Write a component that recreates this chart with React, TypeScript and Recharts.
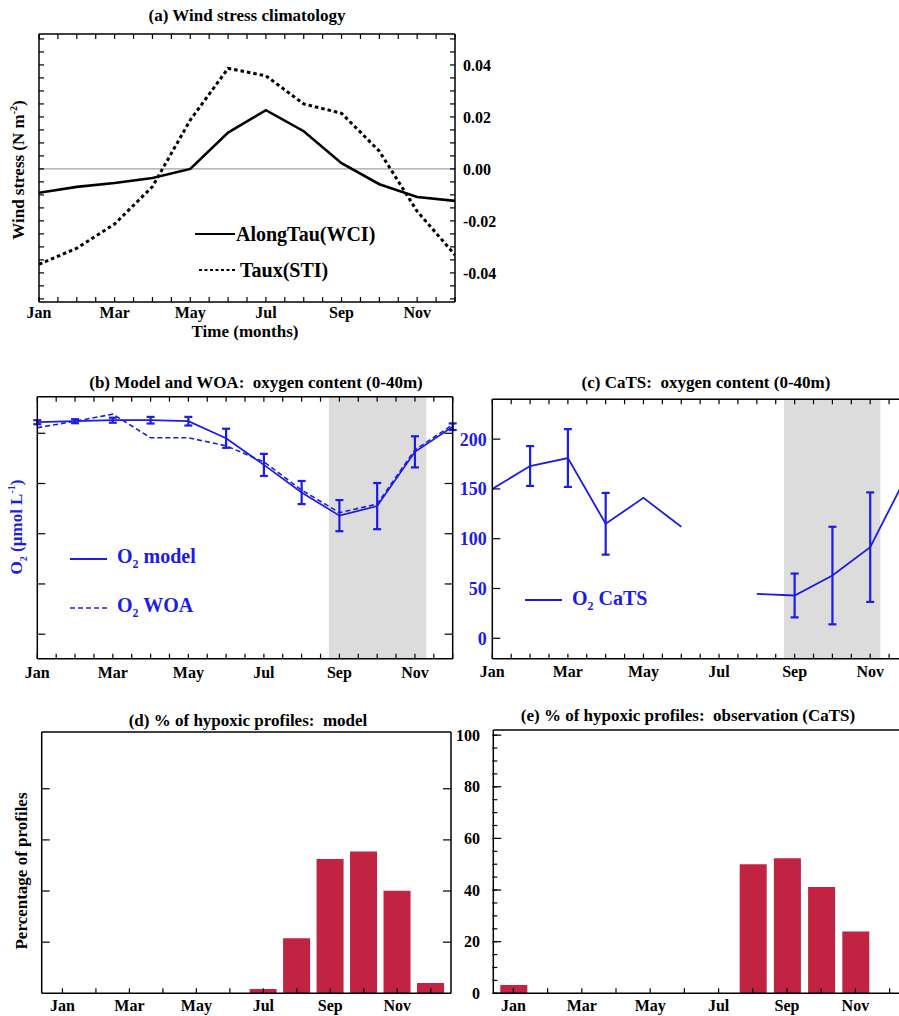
import React from "react";
import {
  LineChart,
  Line,
  BarChart,
  Bar,
  XAxis,
  YAxis,
  ErrorBar,
  ReferenceArea,
  ReferenceLine,
  Legend,
} from "recharts";

const MONTHS = ["Jan", "Feb", "Mar", "Apr", "May", "Jun", "Jul", "Aug", "Sep", "Oct", "Nov", "Dec"];

// (a) wind stress climatology, N m-2
const alongTauWCI = [-0.0092, -0.0069, -0.0054, -0.0035, 0.0, 0.014, 0.0226, 0.0145, 0.0022, -0.0059, -0.0108, -0.0123];
const tauxSTI = [-0.0367, -0.0305, -0.0212, -0.0068, 0.0188, 0.0387, 0.0358, 0.025, 0.0214, 0.0068, -0.0163, -0.0331];

// (b) model and WOA oxygen content (0-40m)
const o2Model = [261, 262, 263, 263, 262, 245, 218.5, 191, 168, 177.5, 231.5, 256.5];
const o2ModelErr = [2, 2, 2.5, 3.3, 4.3, 9.5, 11, 11.5, 15.5, 23, 15.5, 3.3];
const o2WOA = [255.5, 262, 269, 245.5, 245.5, 237.5, 221.5, 193.5, 171, 179.5, 233.5, 258.5];

// (c) CaTS oxygen content (0-40m)
const o2CaTS = [150, 173, 181, 115, 141, 112, null, 44.5, 43, 63, 91.5, 166];
const o2CaTSErr = [null, 20, 29, 31, null, null, null, null, 22, 49, 55, null];

// (d), (e) percentage of hypoxic profiles
const hypoxicModel = [0, 0, 0, 0, 0, 0, 1.7, 21.5, 52.5, 55.5, 40.1, 4.0];
const hypoxicObs = [3.2, 0, 0, 0, 0, 0, 0, 50, 52.3, 41.2, 23.9, 0];

// tick values
const halfMonthTicks = [0, 0.5, 1, 1.5, 2, 2.5, 3, 3.5, 4, 4.5, 5, 5.5, 6, 6.5, 7, 7.5, 8, 8.5, 9, 9.5, 10, 10.5, 11];
const windTicks = [
  -0.05, -0.045, -0.04, -0.035, -0.03, -0.025, -0.02, -0.015, -0.01, -0.005, 0,
  0.005, 0.01, 0.015, 0.02, 0.025, 0.03, 0.035, 0.04, 0.045, 0.05,
];
const windLabels = [-0.04, -0.02, 0, 0.02, 0.04];
const o2Ticks = [0, 50, 100, 150, 200, 250];
const pctTicks = [0, 20, 40, 60, 80, 100];
const pctMinorTicks = [0, 5, 10, 15, 20, 25, 30, 35, 40, 45, 50, 55, 60, 65, 70, 75, 80, 85, 90, 95, 100];

const FONT = '"Liberation Serif", "Times New Roman", serif';
const BLUE = "#1c1ce6";
const CRIMSON = "#c32343";
const SHADE = "#dcdcdc";

const windData = MONTHS.map((m, i) => ({ m: i, along: alongTauWCI[i], taux: tauxSTI[i] }));
const modelData = MONTHS.map((m, i) => ({ m: i, model: o2Model[i], err: o2ModelErr[i], woa: o2WOA[i] }));
const catsData = MONTHS.map((m, i) => ({ m: i, cats: o2CaTS[i], err: o2CaTSErr[i] }));
const pctModelData = MONTHS.map((m, i) => ({ month: m, pct: hypoxicModel[i] }));
const pctObsData = MONTHS.map((m, i) => ({ month: m, pct: hypoxicObs[i] }));

const tickFont = (size: number, fill = "#000") => ({
  fontFamily: FONT,
  fontWeight: 700,
  fontSize: size,
  fill,
});
const axisLine = { stroke: "#000", strokeWidth: 1.5 };
const tickLine = { stroke: "#000", strokeWidth: 1.2 };
const blank = () => "";
const monthLabel = (v: number) => (Number.isInteger(v) && v % 2 === 0 ? MONTHS[v] : "");
const bandLabel = (v: string, i: number) => (i % 2 === 0 ? v : "");

// plot box in chart coords -> margins (axes are 1px thick, recharts skips 0px axes)
const boxMargin = (w: number, h: number, l: number, t: number, r: number, b: number) => ({
  left: l - 1,
  top: t - 1,
  right: w - r - 1,
  bottom: h - b - 1,
});

function Caption({ x, y, size = 17, color = "#000", rotate = false, children }: any) {
  return (
    <div
      style={{
        position: "absolute",
        left: x,
        top: y,
        transform: `translate(-50%, -50%)${rotate ? " rotate(-90deg)" : ""}`,
        fontFamily: FONT,
        fontWeight: 700,
        fontSize: size,
        color,
        whiteSpace: "nowrap",
        lineHeight: 1,
      }}
    >
      {children}
    </div>
  );
}

function LegendRows({ rows }: any) {
  return (
    <div style={{ fontFamily: FONT, fontWeight: 700 }}>
      {rows.map((r: any, i: number) => (
        <div
          key={i}
          style={{ display: "flex", alignItems: "center", height: r.h, color: r.color, fontSize: r.size, whiteSpace: "nowrap" }}
        >
          <svg width={r.len + r.indent} height={6} style={{ marginRight: r.gap }}>
            <line
              x1={r.indent}
              y1={3}
              x2={r.len + r.indent}
              y2={3}
              stroke={r.color}
              strokeWidth={r.sw}
              strokeDasharray={r.dash}
            />
          </svg>
          <span>{r.label}</span>
        </div>
      ))}
    </div>
  );
}

function WindPanel() {
  return (
    <div style={{ position: "absolute", left: 0, top: 0 }}>
      <LineChart width={520} height={345} data={windData} margin={boxMargin(520, 345, 39, 34, 455, 302)}>
        <XAxis
          xAxisId="b"
          type="number"
          dataKey="m"
          domain={[0, 11]}
          ticks={halfMonthTicks}
          interval={0}
          tickFormatter={monthLabel}
          height={1}
          tickSize={-5}
          tickMargin={10}
          axisLine={axisLine}
          tickLine={tickLine}
          tick={tickFont(16)}
          allowDataOverflow
        />
        <XAxis
          xAxisId="t"
          orientation="top"
          type="number"
          dataKey="m"
          domain={[0, 11]}
          ticks={halfMonthTicks}
          interval={0}
          tickFormatter={blank}
          height={1}
          tickSize={-5}
          axisLine={axisLine}
          tickLine={tickLine}
          allowDataOverflow
        />
        <YAxis
          yAxisId="l"
          type="number"
          domain={[-0.0512, 0.0519]}
          ticks={windTicks}
          interval={0}
          tickFormatter={blank}
          width={1}
          tickSize={-5}
          axisLine={axisLine}
          tickLine={tickLine}
          allowDataOverflow
        />
        <YAxis
          yAxisId="r"
          orientation="right"
          type="number"
          domain={[-0.0512, 0.0519]}
          ticks={windTicks}
          interval={0}
          tickFormatter={(v: number) => (windLabels.some((w) => Math.abs(w - v) < 1e-6) ? v.toFixed(2) : "")}
          width={1}
          tickSize={-5}
          tickMargin={13}
          axisLine={axisLine}
          tickLine={tickLine}
          tick={tickFont(16)}
          allowDataOverflow
        />
        <ReferenceLine xAxisId="b" yAxisId="r" y={0} stroke="#8a8a8a" strokeWidth={1} />
        <Line
          xAxisId="b"
          yAxisId="r"
          type="linear"
          dataKey="along"
          stroke="#000"
          strokeWidth={2.6}
          dot={false}
          isAnimationActive={false}
        />
        <Line
          xAxisId="b"
          yAxisId="r"
          type="linear"
          dataKey="taux"
          stroke="#000"
          strokeWidth={3}
          strokeDasharray="3.5 3"
          dot={false}
          isAnimationActive={false}
        />
        <Legend
          layout="vertical"
          align="center"
          verticalAlign="middle"
          wrapperStyle={{ left: 195, top: 216, width: 240 }}
          content={() => (
            <LegendRows
              rows={[
                { label: "AlongTau(WCI)", color: "#000", size: 20, len: 40, indent: 0, gap: 1, sw: 2, h: 36 },
                { label: "Taux(STI)", color: "#000", size: 20, len: 36, indent: 4, gap: 5, sw: 2.2, dash: "3 2.5", h: 36 },
              ]}
            />
          )}
        />
      </LineChart>
    </div>
  );
}

function ModelO2Panel() {
  return (
    <div style={{ position: "absolute", left: 0, top: 370 }}>
      <LineChart width={470} height={320} data={modelData} margin={boxMargin(470, 320, 37.3, 26.7, 452.7, 288.7)}>
        <XAxis
          xAxisId="b"
          type="number"
          dataKey="m"
          domain={[0, 11]}
          ticks={halfMonthTicks}
          interval={0}
          tickFormatter={monthLabel}
          height={1}
          tickSize={-5}
          tickMargin={13}
          axisLine={axisLine}
          tickLine={tickLine}
          tick={tickFont(16)}
          allowDataOverflow
        />
        <XAxis
          xAxisId="t"
          orientation="top"
          type="number"
          dataKey="m"
          domain={[0, 11]}
          ticks={halfMonthTicks}
          interval={0}
          tickFormatter={blank}
          height={1}
          tickSize={-5}
          axisLine={axisLine}
          tickLine={tickLine}
          allowDataOverflow
        />
        <YAxis
          yAxisId="l"
          type="number"
          domain={[25.6, 286.4]}
          ticks={o2Ticks.slice(1)}
          interval={0}
          tickFormatter={blank}
          width={1}
          tickSize={-8}
          axisLine={axisLine}
          tickLine={tickLine}
          allowDataOverflow
        />
        <YAxis
          yAxisId="r"
          orientation="right"
          type="number"
          domain={[25.6, 286.4]}
          ticks={o2Ticks.slice(1)}
          interval={0}
          tickFormatter={blank}
          width={1}
          tickSize={-8}
          axisLine={axisLine}
          tickLine={tickLine}
          allowDataOverflow
        />
        <ReferenceArea xAxisId="b" yAxisId="l" x1={7.72} x2={10.3} fill={SHADE} fillOpacity={1} stroke="none" />
        <Line
          xAxisId="b"
          yAxisId="l"
          type="linear"
          dataKey="woa"
          stroke={BLUE}
          strokeWidth={1.6}
          strokeDasharray="5 3"
          dot={false}
          isAnimationActive={false}
        />
        <Line
          xAxisId="b"
          yAxisId="l"
          type="linear"
          dataKey="model"
          stroke={BLUE}
          strokeWidth={1.7}
          dot={false}
          isAnimationActive={false}
        >
          <ErrorBar dataKey="err" direction="y" width={4} stroke={BLUE} strokeWidth={2.2} />
        </Line>
        <Legend
          layout="vertical"
          align="center"
          verticalAlign="middle"
          wrapperStyle={{ left: 70, top: 164, width: 160 }}
          content={() => (
            <LegendRows
              rows={[
                { label: <>O<sub style={{ fontSize: 12 }}>2</sub> model</>, color: BLUE, size: 20, len: 37, indent: 0, gap: 10, sw: 1.8, h: 49 },
                { label: <>O<sub style={{ fontSize: 12 }}>2</sub> WOA</>, color: BLUE, size: 20, len: 37, indent: 0, gap: 10, sw: 1.6, dash: "5 3", h: 49 },
              ]}
            />
          )}
        />
      </LineChart>
    </div>
  );
}

function CatsO2Panel() {
  return (
    <div style={{ position: "absolute", left: 460, top: 370 }}>
      <LineChart width={470} height={320} data={catsData} margin={boxMargin(470, 320, 32.3, 29.3, 448, 288.7)}>
        <XAxis
          xAxisId="b"
          type="number"
          dataKey="m"
          domain={[0, 11]}
          ticks={halfMonthTicks}
          interval={0}
          tickFormatter={monthLabel}
          height={1}
          tickSize={-5}
          tickMargin={12}
          axisLine={axisLine}
          tickLine={tickLine}
          tick={tickFont(16)}
          allowDataOverflow
        />
        <XAxis
          xAxisId="t"
          orientation="top"
          type="number"
          dataKey="m"
          domain={[0, 11]}
          ticks={halfMonthTicks}
          interval={0}
          tickFormatter={blank}
          height={1}
          tickSize={-5}
          axisLine={axisLine}
          tickLine={tickLine}
          allowDataOverflow
        />
        <YAxis
          yAxisId="l"
          type="number"
          domain={[-20.5, 240]}
          ticks={o2Ticks.slice(0, 5)}
          interval={0}
          width={1}
          tickSize={-8}
          tickMargin={13.6}
          axisLine={axisLine}
          tickLine={tickLine}
          tick={tickFont(18, BLUE)}
          allowDataOverflow
        />
        <YAxis
          yAxisId="r"
          orientation="right"
          type="number"
          domain={[-20.5, 240]}
          ticks={o2Ticks.slice(0, 5)}
          interval={0}
          tickFormatter={blank}
          width={1}
          tickSize={-8}
          axisLine={axisLine}
          tickLine={tickLine}
          allowDataOverflow
        />
        <ReferenceArea xAxisId="b" yAxisId="l" x1={7.72} x2={10.27} fill={SHADE} fillOpacity={1} stroke="none" />
        <Line
          xAxisId="b"
          yAxisId="l"
          type="linear"
          dataKey="cats"
          stroke={BLUE}
          strokeWidth={1.8}
          dot={false}
          isAnimationActive={false}
        >
          <ErrorBar dataKey="err" direction="y" width={4} stroke={BLUE} strokeWidth={2.2} />
        </Line>
        <Legend
          layout="vertical"
          align="center"
          verticalAlign="middle"
          wrapperStyle={{ left: 65, top: 206, width: 150 }}
          content={() => (
            <LegendRows
              rows={[
                { label: <>O<sub style={{ fontSize: 12 }}>2</sub> CaTS</>, color: BLUE, size: 20, len: 37, indent: 0, gap: 10, sw: 1.8, h: 48 },
              ]}
            />
          )}
        />
      </LineChart>
    </div>
  );
}

function PctPanel({ data, left, top, width, box, domain, padding, labelAxis, labelMargin }: any) {
  const margin = boxMargin(width, 326, box[0], box[1], box[2], box[3]);
  if (labelAxis) margin.left -= 1;
  return (
    <div style={{ position: "absolute", left, top }}>
      <BarChart width={width} height={326} data={data} margin={margin} barSize={27}>
        <XAxis
          xAxisId="b"
          dataKey="month"
          interval={0}
          padding={padding}
          tickFormatter={bandLabel}
          height={1}
          tickSize={-5}
          tickMargin={11}
          axisLine={axisLine}
          tickLine={tickLine}
          tick={tickFont(16)}
        />
        <XAxis
          xAxisId="t"
          orientation="top"
          dataKey="month"
          interval={0}
          padding={padding}
          height={1}
          tickFormatter={blank}
          tickLine={false}
          axisLine={axisLine}
        />
        <YAxis
          yAxisId="l"
          type="number"
          domain={domain}
          ticks={labelAxis ? pctTicks : pctTicks.slice(1, 5)}
          interval={0}
          tickFormatter={labelAxis ? undefined : blank}
          width={1}
          tickSize={-8}
          tickMargin={labelMargin}
          axisLine={axisLine}
          tickLine={tickLine}
          tick={tickFont(16)}
          allowDataOverflow
        />
        {labelAxis ? (
          <YAxis
            yAxisId="lm"
            type="number"
            domain={domain}
            ticks={pctMinorTicks}
            interval={0}
            tickFormatter={blank}
            width={1}
            tickSize={-5}
            axisLine={false}
            tickLine={tickLine}
            allowDataOverflow
          />
        ) : null}
        <YAxis
          yAxisId="r"
          orientation="right"
          type="number"
          domain={domain}
          ticks={pctTicks.slice(1, 5)}
          interval={0}
          tickFormatter={blank}
          width={1}
          tickSize={-8}
          axisLine={axisLine}
          tickLine={tickLine}
          allowDataOverflow
        />
        <Bar xAxisId="b" yAxisId="l" dataKey="pct" fill={CRIMSON} isAnimationActive={false} />
      </BarChart>
    </div>
  );
}

export default function App() {
  return (
    <div
      style={{
        position: "absolute",
        left: 0,
        top: 0,
        width: 899,
        height: 1016,
        overflow: "hidden",
        background: "#fff",
      }}
    >
      <WindPanel />
      <ModelO2Panel />
      <CatsO2Panel />
      <PctPanel
        data={pctModelData}
        left={0}
        top={690}
        width={460}
        box={[41.7, 42, 451, 303.3]}
        domain={[0, 102.2]}
        padding={{ left: 4, right: 3.5 }}
        labelAxis={false}
        labelMargin={0}
      />
      <PctPanel
        data={pctObsData}
        left={450}
        top={690}
        width={470}
        box={[43.3, 40, 459.7, 303.3]}
        domain={[0, 102]}
        padding={{ left: 3, right: 3 }}
        labelAxis={true}
        labelMargin={21.3}
      />

      <Caption x={247} y={15}>(a) Wind stress climatology</Caption>
      <Caption x={18} y={170} rotate>
        Wind stress (N m<sup style={{ fontSize: 10 }}>-2</sup>)
      </Caption>
      <Caption x={245} y={331}>Time (months)</Caption>

      <Caption x={256} y={382}>(b) Model and WOA:&nbsp; oxygen content (0-40m)</Caption>
      <Caption x={18} y={527} color={BLUE} rotate>
        O<sub style={{ fontSize: 10 }}>2</sub> (µmol L<sup style={{ fontSize: 10 }}>-1</sup>)
      </Caption>
      <Caption x={706} y={382}>(c) CaTS:&nbsp; oxygen content (0-40m)</Caption>

      <Caption x={248} y={720}>(d) % of hypoxic profiles:&nbsp; model</Caption>
      <Caption x={688} y={715}>(e) % of hypoxic profiles:&nbsp; observation (CaTS)</Caption>
      <Caption x={21} y={871} rotate>Percentage of profiles</Caption>
    </div>
  );
}
